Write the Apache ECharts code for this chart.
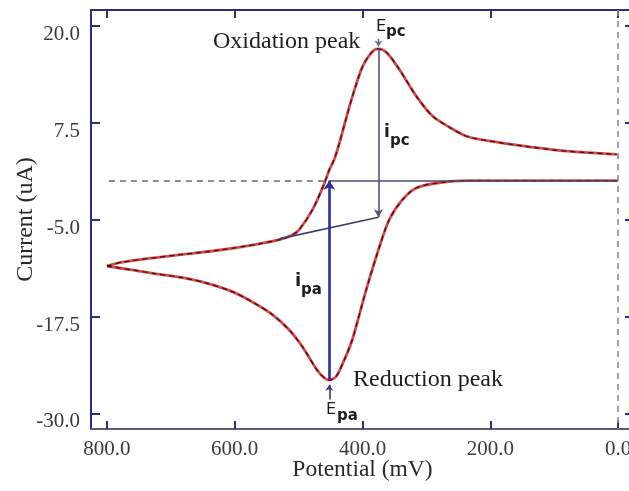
<!DOCTYPE html>
<html><head><meta charset="utf-8">
<script src="https://cdn.jsdelivr.net/npm/echarts@6/dist/echarts.min.js"></script>
<style>html,body{margin:0;padding:0;background:#fff}#c{width:629px;height:491px}</style>
</head><body><div id="c"></div>
<script>
// ---- data ----
const xTicks = [0, 200, 400, 600, 800];
const yTicks = [-30, -17.5, -5, 7.5, 20];
// upper (oxidation) branch
const upperE = [800, 776, 723, 671, 620, 566, 530, 510, 499, 478, 460, 452, 444, 436, 426, 416, 400, 386, 376, 362, 342, 315, 290, 262, 236, 185, 133, 80, 2];
const upperI = [-11.0, -10.5, -9.9, -9.4, -8.9, -8.2, -7.6, -7.0, -6.3, -3.7, -0.4, 1.4, 2.8, 4.9, 7.9, 10.8, 14.7, 16.5, 17.0, 16.5, 14.3, 10.8, 8.3, 6.8, 5.7, 4.9, 4.3, 3.8, 3.4];
// lower (reduction) branch
const lowerE = [800, 761, 723, 682, 644, 604, 573, 542, 515, 494, 472, 460, 452, 441, 428, 416, 394, 375, 358, 337, 315, 275, 237, 2];
const lowerI = [-11.0, -11.5, -12.0, -12.5, -13.2, -14.3, -15.6, -17.2, -19.2, -21.4, -24.3, -25.4, -25.7, -25.2, -23.0, -20.5, -14.0, -8.9, -5.0, -2.4, -0.9, -0.2, 0.0, 0.0];
// construction lines
const zeroDashE = [797, 458];          // dashed zero line (left part)
const baselineE = [452, 0];            // solid zero baseline
const slopeE = [530, 375];             // extrapolated baseline
const slopeI = [-7.5, -4.7];
const ipaE = 452, ipaI = [-25.6, 0];   // i_pa arrow (bottom -> top)
const ipcE = 375, ipcI = [17.0, -4.7]; // i_pc arrow (top -> bottom)
const epcArrowI = [18.3, 17.3];
const epaArrowI = [-28.2, -26.3];
const vZeroE = 0;

const pairs = (xs, ys) => xs.map((x, i) => [x, ys[i]]);
const navy = '#2d2d84';
const serif = 'Liberation Serif';

function axisX(pos, showLabel) {
  return {
    type: 'value', min: -25, max: 825, inverse: true, position: pos,
    axisLine: { show: true, onZero: false, lineStyle: { color: pos === 'bottom' ? '#5a5a88' : navy, width: 2 } },
    axisTick: { show: true, inside: true, length: 8, customValues: xTicks, lineStyle: { color: navy, width: 2 } },
    axisLabel: { show: showLabel, customValues: xTicks, formatter: v => v.toFixed(1), fontFamily: serif, fontSize: 21, color: '#3a3a3a', margin: 10 },
    splitLine: { show: false },
    name: showLabel ? 'Potential (mV)' : '', nameLocation: 'middle', nameGap: 29, nameMoveOverlap: false,
    nameTextStyle: { fontFamily: serif, fontSize: 23.5, color: '#2a2a2a' }
  };
}
function axisY(pos, showLabel) {
  return {
    type: 'value', min: -32, max: 22, position: pos,
    axisLine: { show: true, onZero: false, lineStyle: { color: navy, width: 2 } },
    axisTick: { show: true, inside: true, length: 9, customValues: yTicks, lineStyle: { color: navy, width: 2 } },
    axisLabel: { show: showLabel, customValues: yTicks, formatter: v => v.toFixed(1), fontFamily: serif, fontSize: 21, lineHeight: 17, color: '#3a3a3a', margin: 11, verticalAlign: 'top' },
    splitLine: { show: false },
    name: showLabel ? 'Current (uA)' : '', nameLocation: 'middle', nameGap: 53, nameMoveOverlap: false,
    nameTextStyle: { fontFamily: serif, fontSize: 24, color: '#2a2a2a' }
  };
}
function seg(x1, y1, x2, y2) { return [{ coord: [x1, y1] }, { coord: [x2, y2] }]; }
function ml(data, color, width, symbols, type, size, z) {
  return { type: 'line', data: [], silent: true, animation: false, z: z || 5,
    markLine: { silent: true, animation: false, symbol: symbols, symbolSize: size || [8, 9],
      label: { show: false }, lineStyle: { color, width, type: type || 'solid' }, data } };
}
const curveRed = '#d84848', curveDark = '#3e1010';
function curve(d) {
  return [
    { type: 'line', data: d, symbol: 'none', smooth: 0.3, lineStyle: { color: curveRed, width: 2.8 }, z: 3 },
    { type: 'line', data: d, symbol: 'none', smooth: 0.3, lineStyle: { color: curveDark, width: 1.3, type: [5, 4] }, z: 4 }
  ];
}
function txt(x, y, text, font) {
  return { type: 'text', x, y, z: 100, style: { text, font, fill: '#1e1e1e', align: 'left', verticalAlign: 'middle', textAlign: 'left', textVerticalAlign: 'middle' } };
}

const chart = echarts.init(document.getElementById('c'), null, { renderer: 'canvas' });
chart.setOption({
  backgroundColor: '#fff',
  animation: false,
  grid: { left: 91, top: 10, width: 543, height: 419, containLabel: false, outerBoundsMode: 'none' },
  xAxis: [axisX('bottom', true), axisX('top', false)],
  yAxis: [axisY('left', true), axisY('right', false)],
  series: [
    ml([seg(zeroDashE[0], 0, zeroDashE[1], 0)], '#6a6a6a', 1.6, ['none', 'none'], [6, 5], null, 1),
    ml([seg(vZeroE, 22, vZeroE, -32)], '#8a8a8a', 1.6, ['none', 'none'], [6, 5], null, 1),
    ml([seg(baselineE[0], 0, baselineE[1], 0)], '#4a4a78', 1.6, ['none', 'none'], 'solid', null, 2),
    ...curve(pairs(upperE, upperI)),
    ...curve(pairs(lowerE, lowerI)),
    ml([seg(slopeE[0], slopeI[0], slopeE[1], slopeI[1])], '#3d3d70', 1.6, ['none', 'none']),
    ml([seg(ipcE, ipcI[0], ipcE, ipcI[1])], '#55557e', 1.6, ['none', 'arrow'], 'solid', [7, 8]),
    ml([seg(ipaE, ipaI[0], ipaE, ipaI[1])], '#2c2c9a', 2.6, ['none', 'arrow'], 'solid', [9, 9]),
    ml([seg(ipcE, epcArrowI[0], ipcE, epcArrowI[1])], '#6a6a8a', 1.4, ['none', 'arrow'], 'solid', [6, 6]),
    ml([seg(ipaE, epaArrowI[0], ipaE, epaArrowI[1])], '#3a3a8a', 1.6, ['none', 'arrow'], 'solid', [6, 6])
  ],
  graphic: [
    txt(213, 42, 'Oxidation peak', '24px "Liberation Serif"'),
    txt(353, 380, 'Reduction peak', '24px "Liberation Serif"'),
    txt(376, 27, 'E', '16px "DejaVu Sans"'),
    txt(386, 32, 'pc', 'bold 15px "DejaVu Sans"'),
    txt(384, 133, 'i', 'bold 17px "DejaVu Sans"'),
    txt(390, 141, 'pc', 'bold 15px "DejaVu Sans"'),
    txt(295, 281, 'i', 'bold 18px "DejaVu Sans"'),
    txt(301, 290, 'pa', 'bold 15px "DejaVu Sans"'),
    txt(326, 410, 'E', '16px "DejaVu Sans"'),
    txt(337, 416, 'pa', 'bold 15px "DejaVu Sans"')
  ]
});
</script></body></html>
